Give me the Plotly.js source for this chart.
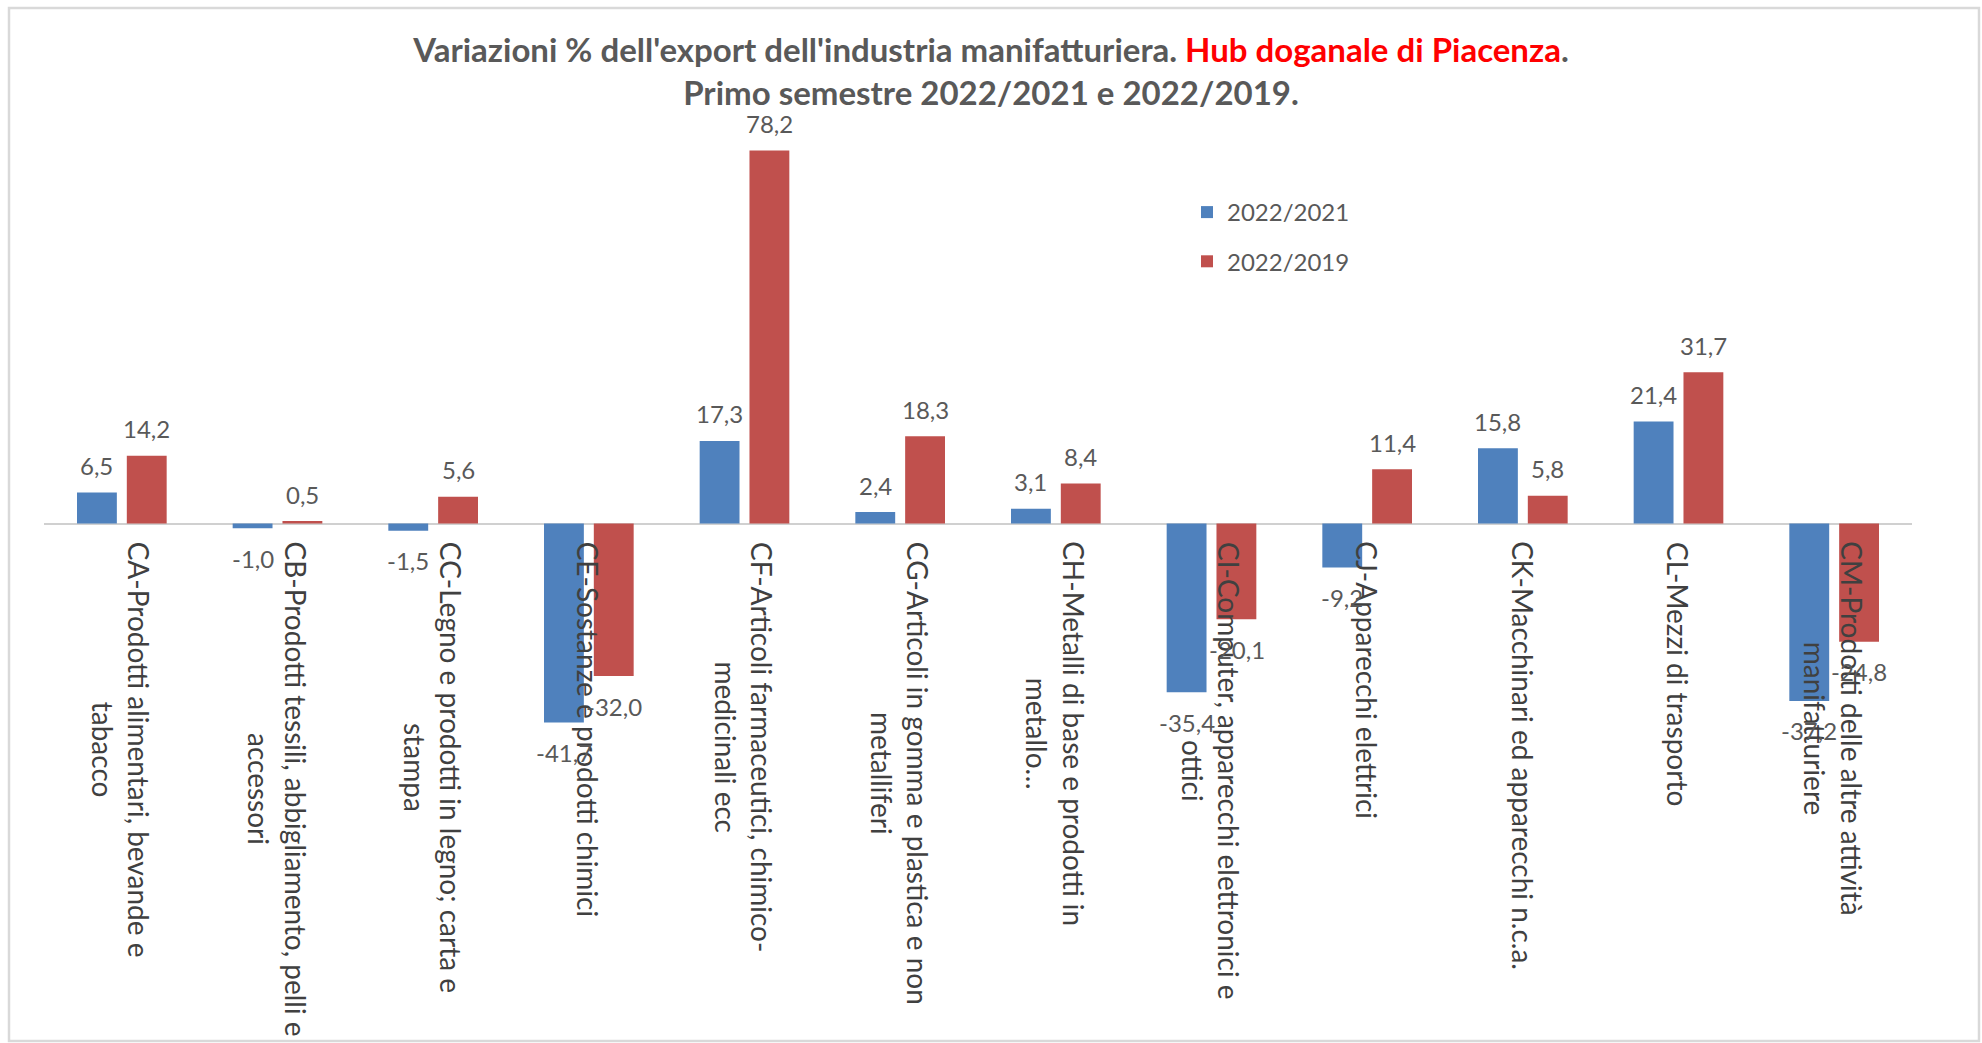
<!DOCTYPE html>
<html>
<head>
<meta charset="utf-8">
<script src="https://cdn.plot.ly/plotly-3.0.1.min.js"></script>
<style>
  html, body { margin: 0; padding: 0; background: #ffffff; }
  #chart { width: 1982px; height: 1043px; }
</style>
</head>
<body>
<div id="chart"></div>
<script>
// ---- Data ----
const categories = ['CA', 'CB', 'CC', 'CE', 'CF', 'CG', 'CH', 'CI', 'CJ', 'CK', 'CL', 'CM'];
const tickLabels = [
  'CA-Prodotti alimentari, bevande e<br>tabacco',
  'CB-Prodotti tessili, abbigliamento, pelli e<br>accessori',
  'CC-Legno e prodotti in legno; carta e<br>stampa',
  'CE-Sostanze e prodotti chimici',
  'CF-Articoli farmaceutici, chimico-<br>medicinali ecc',
  'CG-Articoli in gomma e plastica e non<br>metalliferi',
  'CH-Metalli di base e prodotti in<br>metallo…',
  'CI-Computer, apparecchi elettronici e<br>ottici',
  'CJ-Apparecchi elettrici',
  'CK-Macchinari ed apparecchi n.c.a.',
  'CL-Mezzi di trasporto',
  'CM-Prodotti delle altre attività<br>manifatturiere'
];
const seriesNames = ['2022/2021', '2022/2019'];
const values2022_2021 = [6.5, -1.0, -1.5, -41.7, 17.3, 2.4, 3.1, -35.4, -9.2, 15.8, 21.4, -37.2];
const values2022_2019 = [14.2, 0.5, 5.6, -32.0, 78.2, 18.3, 8.4, -20.1, 11.4, 5.8, 31.7, -24.8];

// ---- Styles ----
const FONT = 'Lato, "Open Sans", "DejaVu Sans", sans-serif';
const BLUE = '#4F81BD';
const RED = '#C0504D';
const TXT = '#595959';
const LBL = '#404040';

const fmt = v => v.toFixed(1).replace('.', ',');

const traces = [
  { type: 'bar', name: seriesNames[0], x: categories, y: values2022_2021,
    marker: { color: BLUE }, legendgroup: 'a', hoverinfo: 'x+y' },
  { type: 'bar', name: seriesNames[1], x: categories, y: values2022_2019,
    marker: { color: RED }, legendgroup: 'b', hoverinfo: 'x+y' }
];

const annotations = [];
// category labels, rotated, hung below the zero line
categories.forEach((c, i) => {
  annotations.push({
    x: c, y: 0, xref: 'x', yref: 'y',
    text: tickLabels[i], textangle: 90, showarrow: false,
    xanchor: 'center', yanchor: 'top', yshift: -16, align: 'center',
    font: { family: FONT, size: 28, color: LBL }
  });
});
// data labels
[values2022_2021, values2022_2019].forEach((vals, s) => {
  vals.forEach((v, i) => {
    annotations.push({
      x: categories[i], y: v, xref: 'x', yref: 'y',
      text: fmt(v), showarrow: false,
      xanchor: 'center', yanchor: 'middle',
      xshift: s === 0 ? -25 : 25, yshift: v >= 0 ? 27 : -30,
      font: { family: FONT, size: 24, color: TXT }
    });
  });
});

// plot area: x 44..1912, y 120..1020
const L = 44, R = 70, T = 120, B = 23;
const W = 1982, H = 1043;
const pw = W - L - R, ph = H - T - B;
const px2paperX = px => (px - L) / pw;
const py2paperY = py => (H - B - py) / ph;

const layout = {
  width: W, height: H,
  margin: { l: L, r: R, t: T, b: B, pad: 0, autoexpand: false },
  paper_bgcolor: '#ffffff', plot_bgcolor: '#ffffff',
  font: { family: FONT, color: TXT },
  barmode: 'group', bargap: 0.36, bargroupgap: 0.2,
  separators: ',.',
  title: {
    text: "Variazioni % dell'export dell'industria manifatturiera. <span style=\"color:#FF0000\">Hub doganale di Piacenza</span>.<br>Primo semestre 2022/2021 e 2022/2019.",
    x: 0.5, xref: 'container', xanchor: 'center',
    y: 1 - 62 / H, yref: 'container', yanchor: 'top',
    font: { family: FONT, size: 33, color: TXT, weight: 700 }
  },
  xaxis: { type: 'category', showticklabels: false, showgrid: false, zeroline: false,
           showline: false, ticks: '', fixedrange: true },
  yaxis: { range: [-104.1, 84.6], showticklabels: false, showgrid: false,
           zeroline: true, zerolinecolor: '#d0d0d0', zerolinewidth: 2,
           showline: false, ticks: '', fixedrange: true },
  showlegend: true,
  legend: {
    xref: 'paper', yref: 'paper',
    x: px2paperX(1187), y: py2paperY(190), xanchor: 'left', yanchor: 'top',
    traceorder: 'grouped', tracegroupgap: 15,
    font: { family: FONT, size: 24, color: TXT },
    bgcolor: 'rgba(0,0,0,0)', borderwidth: 0
  },
  annotations: annotations,
  shapes: [{
    type: 'rect', xref: 'paper', yref: 'paper',
    x0: px2paperX(9), x1: px2paperX(1979), y0: py2paperY(1041), y1: py2paperY(8),
    line: { color: '#d9d9d9', width: 2.5 }, fillcolor: 'rgba(0,0,0,0)', layer: 'below'
  }]
};

Plotly.newPlot('chart', traces, layout, { displayModeBar: false, staticPlot: true });
</script>
</body>
</html>
